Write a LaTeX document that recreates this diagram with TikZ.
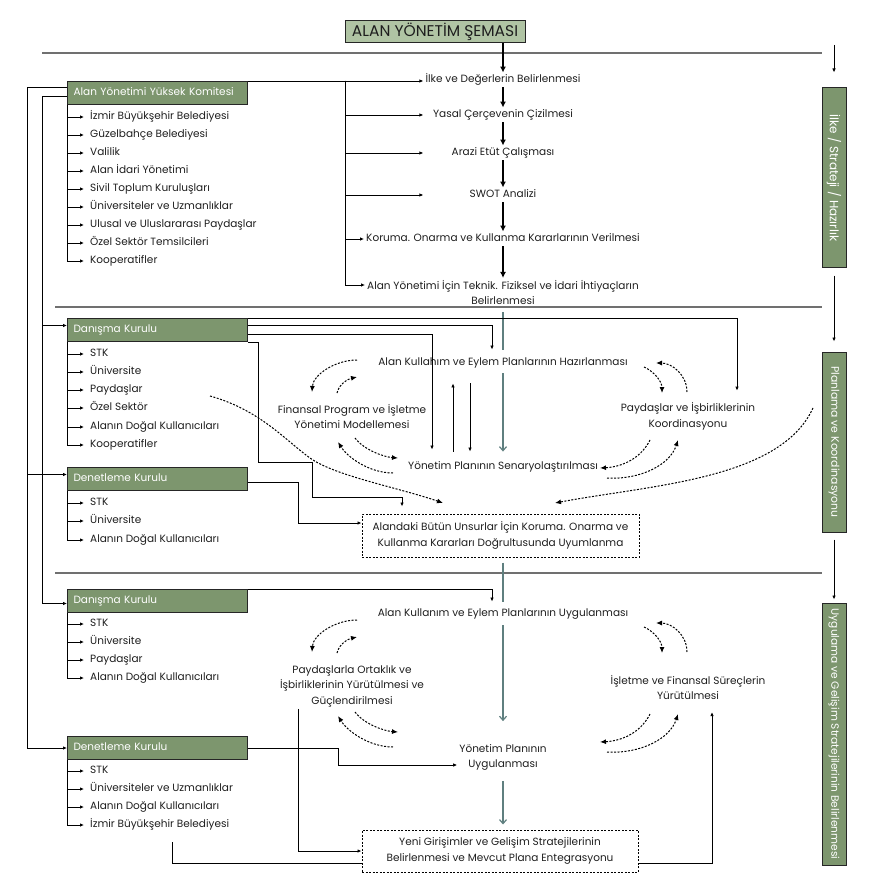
\documentclass[tikz,border=0pt]{standalone}
\usepackage{fontspec}
\setmainfont{Poppins}
\usetikzlibrary{arrows.meta,calc}
\definecolor{dg}{HTML}{7D966E}
\definecolor{lg}{HTML}{B0C4A4}
\definecolor{tl}{HTML}{5F7F7F}
\definecolor{sepc}{HTML}{707070}
\definecolor{tx}{HTML}{1E1E1E}
\begin{document}
\begin{tikzpicture}[x=1pt,y=-1pt,
  font=\fontsize{10.5}{15.5}\selectfont, text=tx,
  gbox/.style={draw=black!85,line width=1pt,fill=dg,text=white,minimum height=23pt,text width=168pt,inner xsep=6pt,inner ysep=0pt,align=left,anchor=north west,text height=8pt,text depth=2.5pt},
  itm/.style={anchor=west,inner xsep=6pt,inner ysep=1pt,text height=8pt,text depth=2.5pt},
  ctr/.style={inner sep=2pt,align=center},
  ctra/.style={inner sep=2pt,text height=8pt,text depth=2.5pt},
  tarr/.style={line width=1.6pt,-{Latex[length=6pt,width=6pt]}},
  sarr/.style={line width=0.8pt,-{Latex[length=4pt,width=3.5pt]}},
  ln/.style={line width=0.8pt},
  tline/.style={draw=tl,line width=1.2pt},
  tealarr/.style={draw=tl,line width=1.2pt,-{Straight Barb[length=4pt,width=7pt]}},
  dsh/.style={line width=1pt,dash pattern=on 2pt off 1.5pt,-{Latex[length=6pt,width=5pt]}},
  dbox/.style={draw,line width=1pt,dash pattern=on 2pt off 1.5pt,align=center,inner sep=0pt},
  sepl/.style={draw=sepc,line width=1.2pt},
  vbox/.style={draw=black!85,line width=1pt,fill=dg,text=white,rotate=-90,minimum height=24pt,inner sep=0pt}
]
\useasboundingbox (0,0) rectangle (878,890);

% title and separators
\node[draw=black!85,line width=1pt,fill=lg,minimum width=180pt,minimum height=22pt,inner sep=0pt,font=\fontsize{15.5}{17}\selectfont] (title) at (435,32) {ALAN YÖNETİM ŞEMASI};
\draw[sepl] (42,53) -- (822,53);
\draw[sepl] (55,307) -- (822,307);
\draw[sepl] (55,573) -- (822,573);

% right phase boxes
\node[vbox,minimum width=180pt,font=\fontsize{12}{14}\selectfont] (r1) at (834,178) {İlke / Strateji / Hazırlık};
\node[vbox,minimum width=180pt,font=\fontsize{10.8}{13}\selectfont] (r2) at (834,442) {Planlama ve Koordinasyonu};
\node[vbox,minimum width=262pt,font=\fontsize{10.6}{13}\selectfont] (r3) at (834,734) {Uygulama ve Gelişim Stratejilerinin Belirlenmesi};
\coordinate (rt) at (834,45);
\draw[sarr] (rt) -- ([yshift=15pt]r1.west);
\draw[sarr,shorten <=7pt,shorten >=10pt] (r1.east) -- (r2.west);
\draw[sarr,shorten <=7pt,shorten >=3pt] (r2.east) -- (r3.west);

% left boxes
\node[gbox] (yk) at (67,81) {Alan Yönetimi Yüksek Komitesi};
\node[itm] (yk1) at (84,117) {İzmir Büyükşehir Belediyesi};
\node[itm] (yk2) at (84,135) {Güzelbahçe Belediyesi};
\node[itm] (yk3) at (84,153) {Valilik};
\node[itm] (yk4) at (84,171) {Alan İdari Yönetimi};
\node[itm] (yk5) at (84,189) {Sivil Toplum Kuruluşları};
\node[itm] (yk6) at (84,207) {Üniversiteler ve Uzmanlıklar};
\node[itm] (yk7) at (84,225) {Ulusal ve Uluslararası Paydaşlar};
\node[itm] (yk8) at (84,243) {Özel Sektör Temsilcileri};
\node[itm] (yk9) at (84,261) {Kooperatifler};
\foreach \n in {yk1,yk2,yk3,yk4,yk5,yk6,yk7,yk8,yk9} \draw[sarr] (yk.south west) |- (\n.west);

\node[gbox] (da1) at (67,318) {Danışma Kurulu};
\node[itm] (da11) at (84,354) {STK};
\node[itm] (da12) at (84,372) {Üniversite};
\node[itm] (da13) at (84,390) {Paydaşlar};
\node[itm] (da14) at (84,408) {Özel Sektör};
\node[itm] (da15) at (84,427) {Alanın Doğal Kullanıcıları};
\node[itm] (da16) at (84,445) {Kooperatifler};
\foreach \n in {da11,da12,da13,da14,da15,da16} \draw[sarr] (da1.south west) |- (\n.west);

\node[gbox] (de1) at (67,467) {Denetleme Kurulu};
\node[itm] (de11) at (84,503) {STK};
\node[itm] (de12) at (84,521) {Üniversite};
\node[itm] (de13) at (84,540) {Alanın Doğal Kullanıcıları};
\foreach \n in {de11,de12,de13} \draw[sarr] (de1.south west) |- (\n.west);

\node[gbox] (da2) at (67,589) {Danışma Kurulu};
\node[itm] (da21) at (84,624) {STK};
\node[itm] (da22) at (84,642) {Üniversite};
\node[itm] (da23) at (84,660) {Paydaşlar};
\node[itm] (da24) at (84,678) {Alanın Doğal Kullanıcıları};
\foreach \n in {da21,da22,da23,da24} \draw[sarr] (da2.south west) |- (\n.west);

\node[gbox] (de2) at (67,736) {Denetleme Kurulu};
\node[itm] (de21) at (84,771) {STK};
\node[itm] (de22) at (84,789) {Üniversiteler ve Uzmanlıklar};
\node[itm] (de23) at (84,807) {Alanın Doğal Kullanıcıları};
\node[itm] (de24) at (84,825) {İzmir Büyükşehir Belediyesi};
\foreach \n in {de21,de22,de23,de24} \draw[sarr] (de2.south west) |- (\n.west);

% left feed lines
\draw[sarr] ([yshift=5.5pt]yk.west) -- ++(-40,0) |- ([yshift=4.5pt]de1.west);
\draw[sarr] ([yshift=5.5pt]yk.west) -- ++(-40,0) |- (de2.west);
\draw[sarr] ([yshift=-3.5pt]yk.west) -- ++(-25,0) |- ([yshift=4.5pt]da1.west);
\draw[sarr] ([yshift=-3.5pt]yk.west) -- ++(-25,0) |- ([yshift=-2.5pt]da2.west);

% section 1 flow
\node[ctra] (ilke) at (503,80) {İlke ve Değerlerin Belirlenmesi};
\node[ctra] (yasal) at (503,115) {Yasal Çerçevenin Çizilmesi};
\node[ctra] (arazi) at (503,153) {Arazi Etüt Çalışması};
\node[ctra] (swot) at (503,195) {SWOT Analizi};
\node[ctra] (kor) at (503,239) {Koruma. Onarma ve Kullanma Kararlarının Verilmesi};
\node[ctr] (aly) at (503,292.5) {Alan Yönetimi İçin Teknik. Fiziksel ve İdari İhtiyaçların\\Belirlenmesi};
\draw[tarr] (title.south -| ilke.north) -- (ilke.north);
\draw[tarr] (ilke) -- (yasal);
\draw[tarr] (yasal) -- (arazi);
\draw[tarr] (arazi) -- (swot);
\draw[tarr] (swot) -- (kor);
\draw[tarr] (kor) -- (aly);
\coordinate (br) at (345,81);
\draw[sarr] (yk.north east) -- (yk.north east -| ilke.west);
\draw[sarr] (br) |- (yasal.west -| ilke.west);
\draw[sarr] (br) |- (arazi.west -| ilke.west);
\draw[sarr] (br) |- (swot.west -| ilke.west);
\draw[sarr] (br) |- (kor.west);
\draw[sarr] (br) |- ([yshift=7.5pt]aly.west);

% section 2
\node[ctra] (akh) at (503,363) {Alan Kullahım ve Eylem Planlarının Hazırlanması};
\node[ctra] (sen) at (503,467) {Yönetim Planının Senaryolaştırılması};
\node[ctr] (fin) at (352,416.5) {Finansal Program ve İşletme\\Yönetimi Modellemesi};
\node[ctr] (pay) at (688,416.5) {Paydaşlar ve İşbirliklerinin\\Koordinasyonu};
\node[dbox,minimum width=277pt,minimum height=43pt] (ala) at (500.5,535.5) {Alandaki Bütün Unsurlar İçin Koruma. Onarma ve\\Kullanma Kararları Doğrultusunda Uyumlanma};

\draw[tline,shorten <=5pt,shorten >=6pt] (aly.south -| akh.north) -- (akh.north);
\draw[tealarr,shorten <=3pt,shorten >=8pt] (akh.south) -- (sen.north);
\draw[sarr] ([xshift=-50pt,yshift=8pt]sen.north) -- ([xshift=-50pt,yshift=-13pt]akh.south);
\draw[sarr] ([xshift=-33pt,yshift=-13pt]akh.south) -- ([xshift=-33pt,yshift=8pt]sen.north);

\draw[sarr] (da1.north east) -| ([xshift=49pt,yshift=10pt]pay.north);
\draw[sarr] ([yshift=4.5pt]da1.east) -| ([xshift=-11pt,yshift=6pt]akh.north);
\draw[sarr] ([yshift=-4.5pt]da1.east) -| ([xshift=-71pt,yshift=10pt]sen.north);
\draw[sarr] (da1.south east) -| (258,462) -| (312,497) -| ([xshift=-98.5pt,yshift=7pt]ala.north);
\draw[sarr] ([yshift=-3.5pt]de1.east) -| (298,523) -- ([yshift=12.5pt]ala.west);

\foreach \dy/\ey in {0/0,260/274}{
\begin{scope}[shift={(0,\dy)}]
\draw[dsh] (357,360) .. controls (335,360) and (313,375) .. (312,392);
\draw[dsh] (337,393) .. controls (339,384) and (348,379) .. (357,377);
\draw[dsh] (644,367) .. controls (655,372) and (662,382) .. (662,393);
\draw[dsh] (687,392) .. controls (687,375) and (672,363) .. (656,363);
\end{scope}
\begin{scope}[shift={(0,\ey)}]
\draw[dsh] (355,438) .. controls (364,450) and (384,457) .. (398,458);
\draw[dsh] (393,473) .. controls (370,473) and (348,458) .. (338,442);
\draw[dsh] (650,440) .. controls (640,460) and (620,467) .. (600,468);
\draw[dsh] (607,478) .. controls (640,480) and (670,465) .. (678,440);
\end{scope}}
\draw[dsh] (210,396) .. controls (260,410) and (285,440) .. (310,458) .. controls (335,476) and (400,488) .. (443,503);
\draw[dsh] (813,408) .. controls (780,480) and (650,485) .. (555,503);

% section 3
\node[ctra] (aku) at (503,614) {Alan Kullanım ve Eylem Planlarının Uygulanması};
\node[ctr] (por) at (352,686) {Paydaşlarla Ortaklık ve\\İşbirliklerinin Yürütülmesi ve\\Güçlendirilmesi};
\node[ctr] (isl) at (688,687.5) {İşletme ve Finansal Süreçlerin\\Yürütülmesi};
\node[ctr] (yon) at (503,757.5) {Yönetim Planının\\Uygulanması};
\node[dbox,minimum width=276pt,minimum height=42pt] (yeni) at (500,851) {Yeni Girişimler ve Gelişim Stratejilerinin\\Belirlenmesi ve Mevcut Plana Entegrasyonu};

\draw[tline,shorten <=5pt,shorten >=5pt] (ala.south -| aku.north) -- (aku.north);
\draw[tealarr,shorten <=4pt,shorten >=21pt] (aku.south) -- (yon.north);
\draw[tealarr,shorten <=8pt,shorten >=5pt] (yon.south) -- (yon.south |- yeni.north);

\draw[sarr] (da2.north east) -| ([xshift=-11pt,yshift=5pt]aku.north);
\draw[sarr] (de2.east) -| (338,765) -- ([yshift=-7.5pt]yon.west);
\draw[sarr] ([xshift=-54pt]por.south) |- (yeni.west);
\coordinate (f1) at (172,842);
\draw[ln] (f1) |- ([yshift=-12pt]yeni.west);
\draw[sarr] ([yshift=-12pt]yeni.east) -| ([xshift=24pt,yshift=-10pt]isl.south);
\end{tikzpicture}
\end{document}
